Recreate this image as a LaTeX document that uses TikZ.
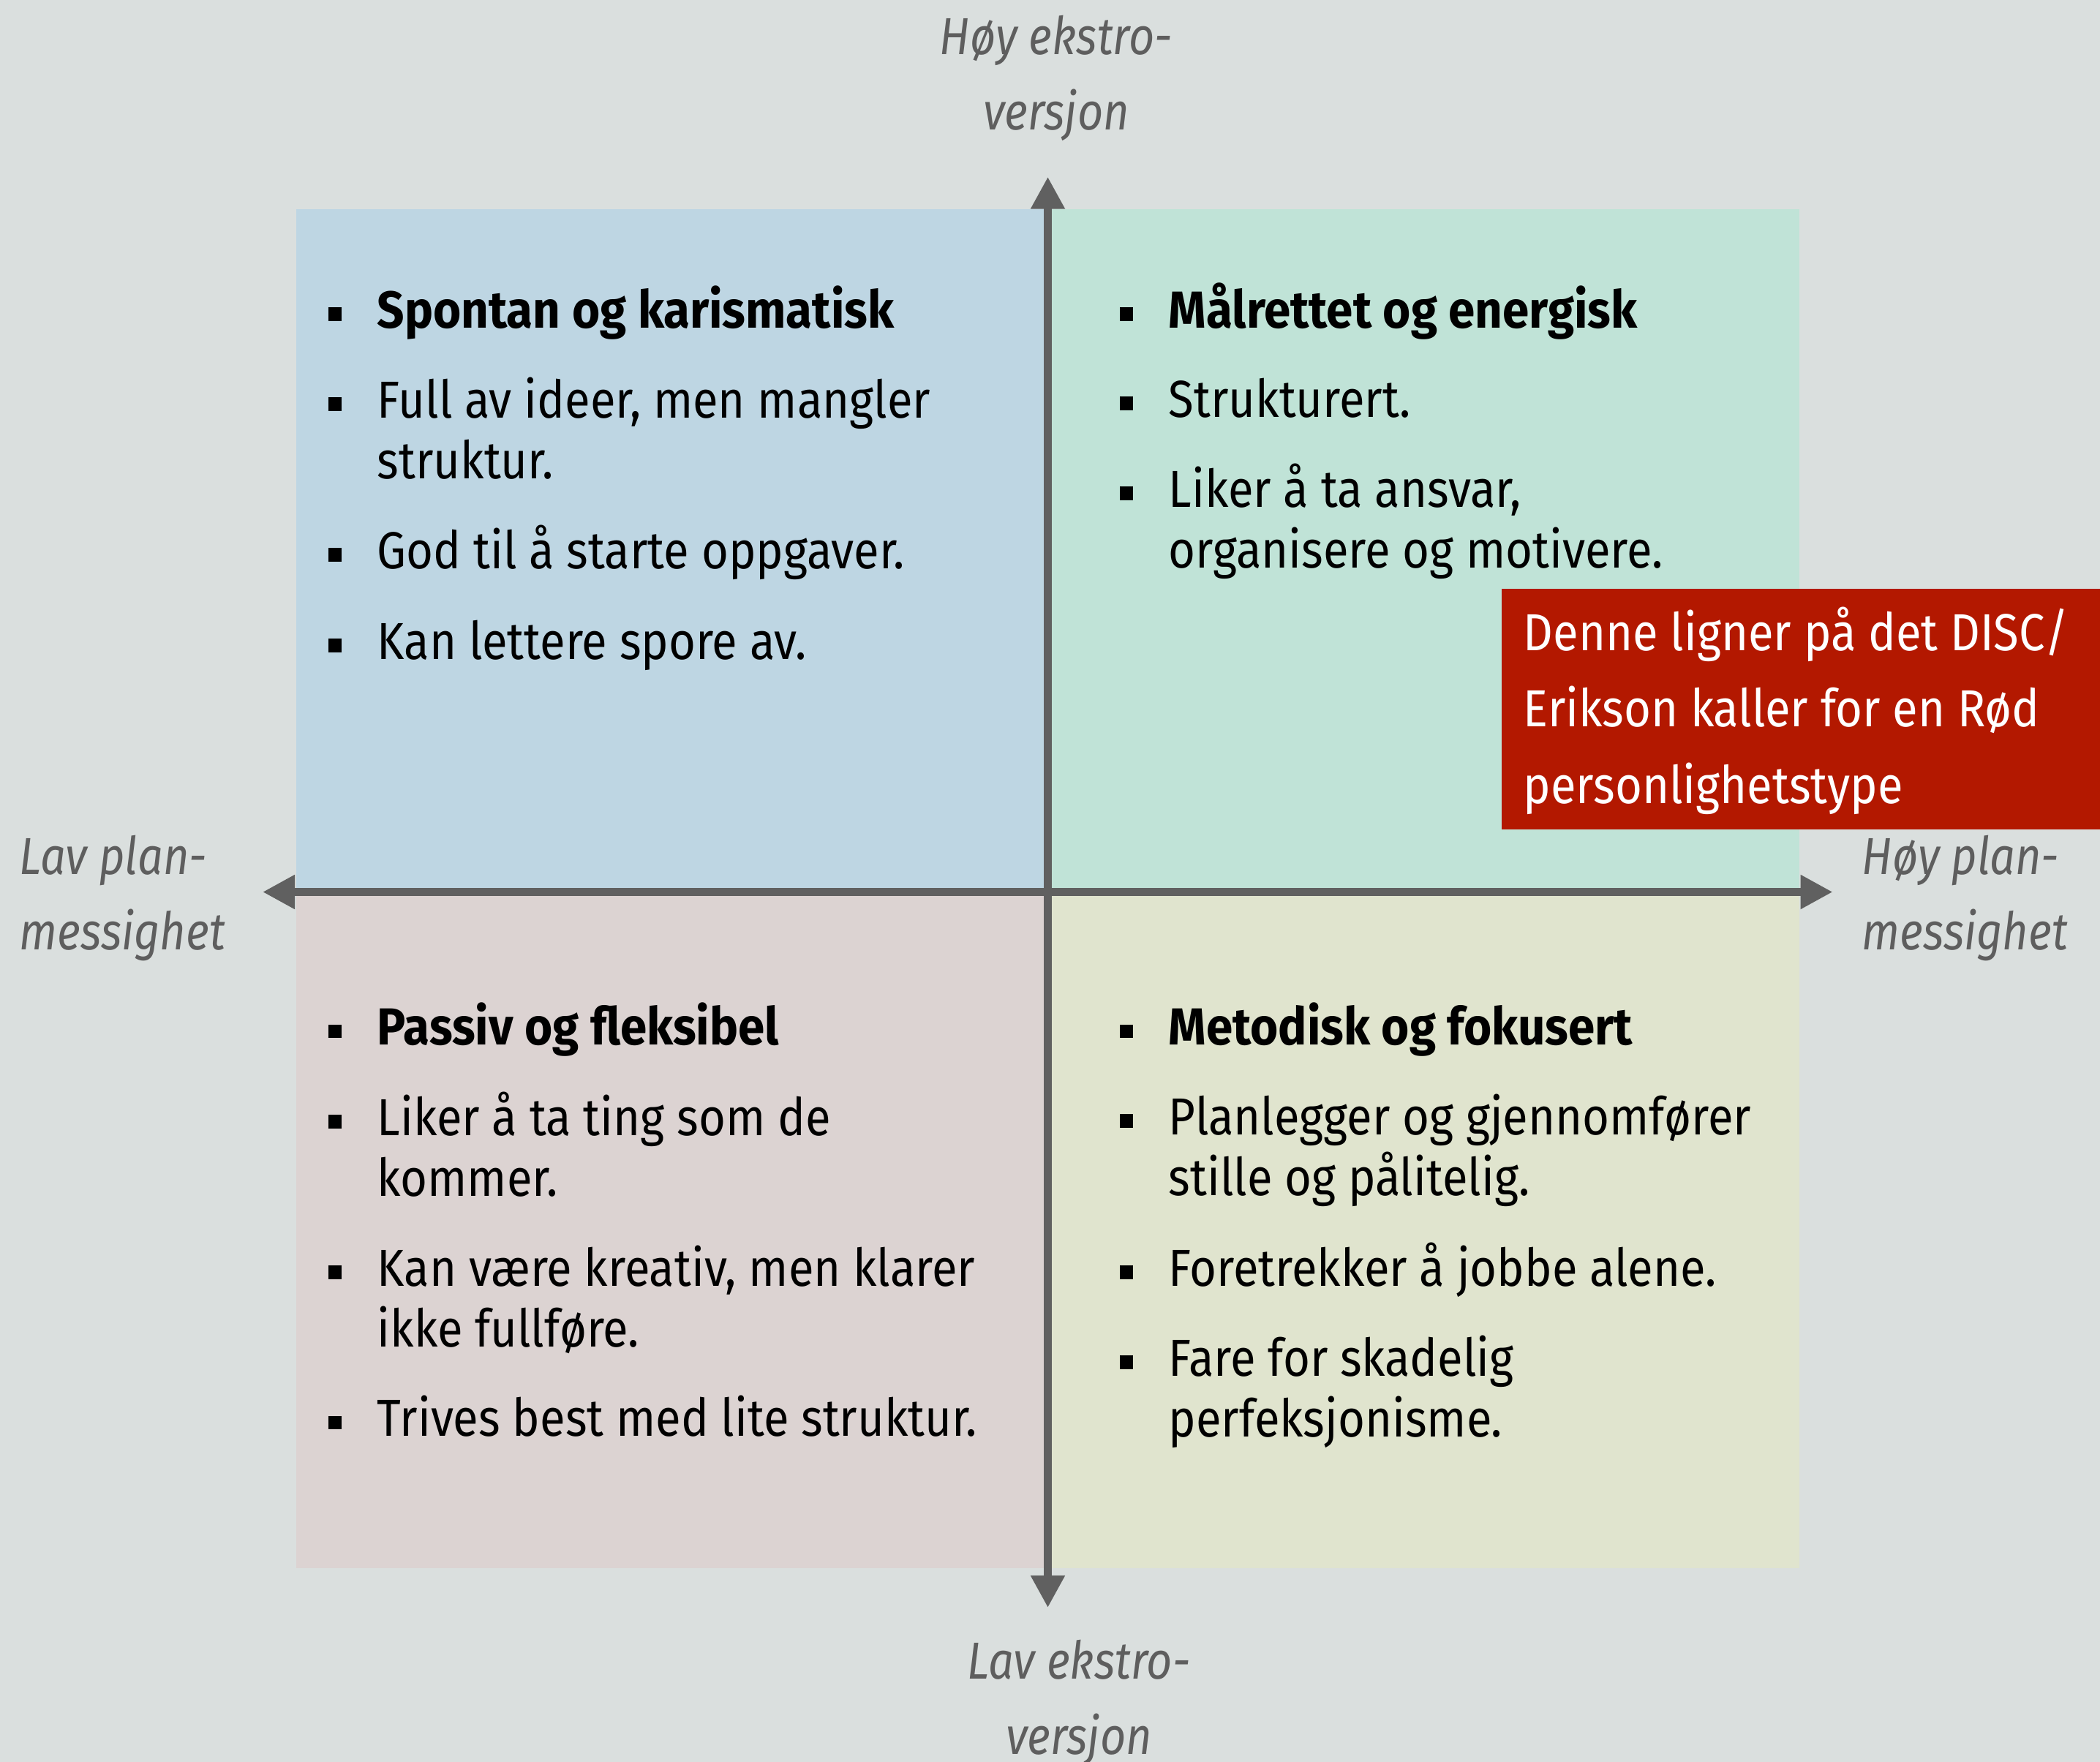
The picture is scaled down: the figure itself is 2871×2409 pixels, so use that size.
\documentclass[tikz,border=0pt]{standalone}
\usepackage{fontspec}
\setmainfont{Fira Sans}[UprightFeatures={FakeStretch=0.89},BoldFeatures={FakeStretch=0.92},ItalicFeatures={FakeStretch=0.86}]
\usetikzlibrary{arrows.meta}
\definecolor{bgc}{HTML}{DADFDE}
\definecolor{qblue}{HTML}{BED6E3}
\definecolor{qgreen}{HTML}{C0E3D7}
\definecolor{qpink}{HTML}{DCD3D2}
\definecolor{qyellow}{HTML}{E0E4CE}
\definecolor{notered}{HTML}{B31800}
\definecolor{axisgray}{HTML}{606060}
\definecolor{labelgray}{HTML}{5E5E5E}
% name, x, first baseline, number of lines, text
\newcommand\bitem[5]{%
  \node[itm] (#1) at (#2,{#3+(#4-1)*83}) {#5};
  \node[bul] (#1b) at ({#2-57},{#3-18.5}) {};
}
\begin{document}
\begin{tikzpicture}[x=0.25pt,y=-0.25pt,
  itm/.style={anchor=base west,inner sep=0pt,align=left,text=black,
    font=\fontsize{17.8pt}{20.75pt}\selectfont},
  bul/.style={fill=black,inner sep=0pt,minimum size=4.6pt},
  axislabel/.style={inner sep=0pt,text=labelgray,
    font=\fontsize{17.8pt}{25.75pt}\selectfont\itshape},
  axisline/.style={draw=axisgray,line width=2.75pt,
    arrows={-Triangle[width=11pt,length=11pt]}},
  notetext/.style={anchor=base west,inner sep=0pt,align=left,text=white,
    font=\fontsize{17.8pt}{26.1pt}\selectfont}]
\useasboundingbox (0,0) rectangle (2871,2409);
\fill[bgc] (0,0) rectangle (2871,2409);
% quadrants
\fill[qblue] (405,286) rectangle (1432.5,1219.5);
\fill[qgreen] (1432.5,286) rectangle (2460,1219.5);
\fill[qpink] (405,1219.5) rectangle (1432.5,2144);
\fill[qyellow] (1432.5,1219.5) rectangle (2460,2144);
% red note
\fill[notered] (2053,805) rectangle (2871,1134);
\node[notetext] (note) at (2082,1098) {Denne ligner på det DISC/\\Erikson kaller for en Rød\\personlighetstype};
% axes
\coordinate (c) at (1432.5,1219.5);
\coordinate (ytop) at (1432.5,241.7);
\coordinate (ybot) at (1432.5,2198);
\coordinate (xleft) at (359,1219.5);
\coordinate (xright) at (2505.6,1219.5);
\draw[axisline] (c) -- (ytop);
\draw[axisline] (c) -- (ybot);
\draw[axisline] (c) -- (xleft);
\draw[axisline] (c) -- (xright);
% axis labels
\node[axislabel,anchor=base,align=center] (lt) at (1444,177) {Høy ekstro-\\versjon};
\node[axislabel,anchor=base,align=center] (lb) at (1475,2398) {Lav ekstro-\\versjon};
\node[axislabel,anchor=base west,align=left] (ll) at (26,1298) {Lav plan-\\messighet};
\node[axislabel,anchor=base west,align=left] (lr) at (2545,1298) {Høy plan-\\messighet};
% top-left
\bitem{tl1}{515}{448}{1}{\textbf{Spontan og karismatisk}}
\bitem{tl2}{515}{571}{2}{Full av ideer, men mangler\\struktur.}
\bitem{tl3}{515}{777}{1}{God til å starte oppgaver.}
\bitem{tl4}{515}{901}{1}{Kan lettere spore av.}
% top-right
\bitem{tr1}{1597}{448}{1}{\textbf{Målrettet og energisk}}
\bitem{tr2}{1597}{570}{1}{Strukturert.}
\bitem{tr3}{1597}{693}{2}{Liker å ta ansvar,\\organisere og motivere.}
% bottom-left
\bitem{bl1}{515}{1428.5}{1}{\textbf{Passiv og fleksibel}}
\bitem{bl2}{515}{1552}{2}{Liker å ta ting som de\\kommer.}
\bitem{bl3}{515}{1758}{2}{Kan være kreativ, men klarer\\ikke fullføre.}
\bitem{bl4}{515}{1963.5}{1}{Trives best med lite struktur.}
% bottom-right
\bitem{br1}{1597}{1428.5}{1}{\textbf{Metodisk og fokusert}}
\bitem{br2}{1597}{1551}{2}{Planlegger og gjennomfører\\stille og pålitelig.}
\bitem{br3}{1597}{1758}{1}{Foretrekker å jobbe alene.}
\bitem{br4}{1597}{1881}{2}{Fare for skadelig\\perfeksjonisme.}
\end{tikzpicture}
\end{document}
